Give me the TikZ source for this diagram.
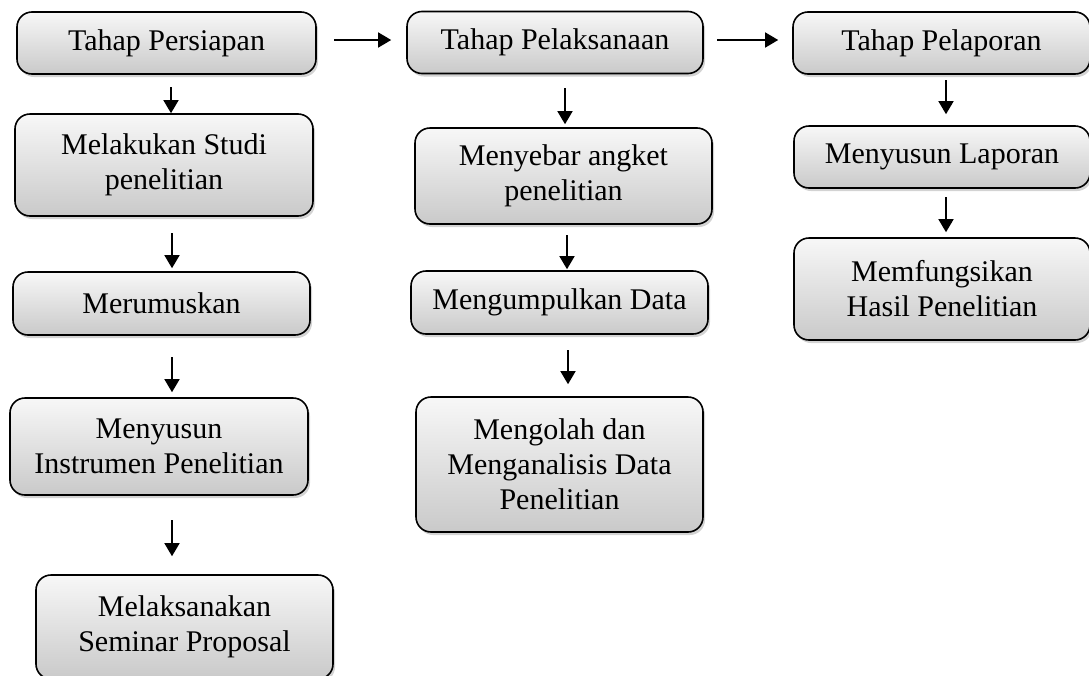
\documentclass[tikz,border=0pt]{standalone}
\usepackage{fontspec}
\setmainfont{Liberation Serif}
\usetikzlibrary{arrows.meta,shadows,positioning}

\begin{document}
\begin{tikzpicture}[x=1pt, y=-1pt,
    step box/.style={draw, line width=1.6pt, rounded corners=15pt, align=center,
        top color=gray!6, bottom color=gray!42, font=\fontsize{30}{35}\selectfont,
        drop shadow={shadow xshift=2pt, shadow yshift=-3pt, opacity=0.35},
        inner sep=0pt},
    arr/.style={-{Triangle[length=13pt, width=15pt]}, line width=1.5pt}]

        \useasboundingbox (0,0) rectangle (1089,675);

        % Tahap persiapan (left)
        \node[step box, minimum width=299pt, minimum height=62pt] (prep) at (166.5,43) {Tahap Persiapan};
        \node[step box, minimum width=298pt, minimum height=102pt] (studi) at (164,165) {Melakukan Studi\\penelitian};
        \node[step box, minimum width=297pt, minimum height=63pt] (rumus) at (161.5,303.5) {Merumuskan};
        \node[step box, minimum width=298pt, minimum height=97pt] (instr) at (159,446.5) {Menyusun\\Instrumen Penelitian};
        \node[step box, minimum width=297pt, minimum height=104pt] (semi) at (184.5,627) {Melaksanakan\\Seminar Proposal};

        % Tahap pelaksanaan (middle)
        \node[step box, minimum width=296pt, minimum height=62pt] (exec) at (555,42.5) {Tahap Pelaksanaan};
        \node[step box, minimum width=297pt, minimum height=96pt] (angket) at (563.5,176) {Menyebar angket\\penelitian};
        \node[step box, minimum width=297pt, minimum height=63pt] (data) at (559.5,302.5) {Mengumpulkan Data};
        \node[step box, minimum width=287pt, minimum height=135pt] (olah) at (559.5,464.5) {Mengolah dan\\Menganalisis Data\\Penelitian};

        % Tahap pelaporan (right)
        \node[step box, minimum width=297pt, minimum height=62pt] (report) at (941.5,43) {Tahap Pelaporan};
        \node[step box, minimum width=296pt, minimum height=62pt] (lapor) at (942,157) {Menyusun Laporan};
        \node[step box, minimum width=296pt, minimum height=102pt] (fungsi) at (942,289) {Memfungsikan\\Hasil Penelitian};

        % arrow starts
        \coordinate (p1) at (171,87);
        \coordinate (p2) at (172,233);
        \coordinate (p3) at (172,357);
        \coordinate (p4) at (172,520);
        \coordinate (e1) at (565,88);
        \coordinate (e2) at (567,235);
        \coordinate (e3) at (568,350);
        \coordinate (r1) at (946,80);
        \coordinate (r2) at (946,197);
        \coordinate (h1) at (334,40);
        \coordinate (h2) at (717,40);

        \draw[arr] (p1) -- (p1 |- studi.north);
        \draw[arr, shorten >=3pt] (p2) -- (p2 |- rumus.north);
        \draw[arr, shorten >=5pt] (p3) -- (p3 |- instr.north);
        \draw[arr, shorten >=18pt] (p4) -- (p4 |- semi.north);

        \draw[arr, shorten >=3pt] (e1) -- (e1 |- angket.north);
        \draw[arr, shorten >=1pt] (e2) -- (e2 |- data.north);
        \draw[arr, shorten >=12pt] (e3) -- (e3 |- olah.north);

        \draw[arr, shorten >=11pt] (r1) -- (r1 |- lapor.north);
        \draw[arr, shorten >=5pt] (r2) -- (r2 |- fungsi.north);

        \draw[arr, shorten >=15pt] (h1) -- (h1 -| exec.west);
        \draw[arr, shorten >=14pt] (h2) -- (h2 -| report.west);

    \end{tikzpicture}
\end{document}
